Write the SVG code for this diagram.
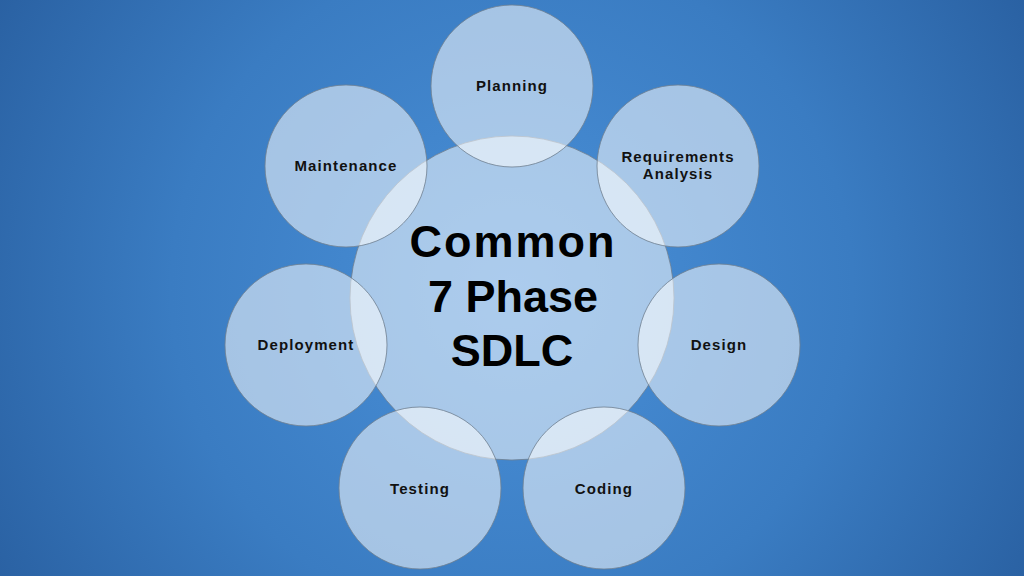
<svg xmlns="http://www.w3.org/2000/svg" width="1024" height="576" viewBox="0 0 1024 576">
<defs>
<radialGradient id="bg" cx="512" cy="290" r="620" gradientUnits="userSpaceOnUse">
<stop offset="0" stop-color="#4a90d8"/>
<stop offset="0.55" stop-color="#3a7cc2"/>
<stop offset="1" stop-color="#285e9f"/>
</radialGradient>
<style>
.c{fill:#ffffff;fill-opacity:0.54;stroke:#6f7f90;stroke-width:1;stroke-opacity:0.8}
.t{font-family:"Liberation Sans",Arial,sans-serif;font-weight:bold;font-size:15px;fill:#111111;text-anchor:middle;letter-spacing:1.1px}
.big{font-family:"Liberation Sans",Arial,sans-serif;font-weight:bold;font-size:45px;fill:#000000;text-anchor:middle}
</style>
</defs>
<rect width="1024" height="576" fill="url(#bg)"/>
<g id="center">
<circle class="c" cx="512" cy="298" r="162"/>
<text class="big" x="513" y="257" letter-spacing="2">Common</text>
<text class="big" x="513" y="312">7 Phase</text>
<text class="big" x="512" y="366">SDLC</text>
</g>
<g id="planning">
<circle class="c" cx="512" cy="86" r="81"/>
<text class="t" x="512" y="91">Planning</text>
</g>
<g id="requirements">
<circle class="c" cx="678" cy="166" r="81"/>
<text class="t" x="678" y="162">Requirements</text>
<text class="t" x="678" y="179">Analysis</text>
</g>
<g id="design">
<circle class="c" cx="719" cy="345" r="81"/>
<text class="t" x="719" y="350">Design</text>
</g>
<g id="coding">
<circle class="c" cx="604" cy="488" r="81"/>
<text class="t" x="604" y="494">Coding</text>
</g>
<g id="testing">
<circle class="c" cx="420" cy="488" r="81"/>
<text class="t" x="420" y="494">Testing</text>
</g>
<g id="deployment">
<circle class="c" cx="306" cy="345" r="81"/>
<text class="t" x="306" y="350">Deployment</text>
</g>
<g id="maintenance">
<circle class="c" cx="346" cy="166" r="81"/>
<text class="t" x="346" y="171">Maintenance</text>
</g>
<g id="connectors"></g>
</svg>
